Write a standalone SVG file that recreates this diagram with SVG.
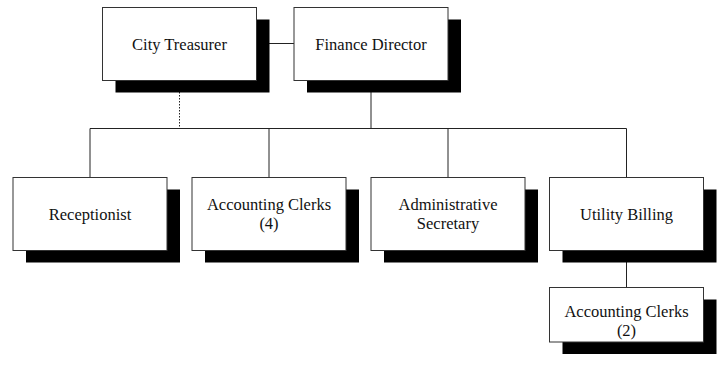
<svg xmlns="http://www.w3.org/2000/svg" width="717" height="370" viewBox="0 0 717 370">
<style>
.sh{fill:#000}
.bx{fill:#fff;stroke:#333;stroke-width:1}
.ln{stroke:#222;stroke-width:1;fill:none}
.dt{stroke:#222;stroke-width:1;fill:none;stroke-dasharray:1.5,1.5}
.t{font-family:'Liberation Serif','Times New Roman',serif;font-size:16.5px;fill:#111;text-anchor:middle}
</style>
<rect width="717" height="370" fill="#fff"/>
<g id="connectors">
<line class="ln" x1="256.5" y1="43.5" x2="294" y2="43.5"/>
<line class="dt" x1="179.5" y1="80" x2="179.5" y2="128.5"/>
<line class="ln" x1="371" y1="80" x2="371" y2="128.5"/>
<line class="ln" x1="90" y1="128.5" x2="626.5" y2="128.5"/>
<line class="ln" x1="90" y1="128.5" x2="90" y2="177.5"/>
<line class="ln" x1="269" y1="128.5" x2="269" y2="177.5"/>
<line class="ln" x1="448" y1="128.5" x2="448" y2="177.5"/>
<line class="ln" x1="626.5" y1="128.5" x2="626.5" y2="177.5"/>
<line class="ln" x1="626.5" y1="250" x2="626.5" y2="287.5"/>
</g>
<g id="city-treasurer">
<rect class="sh" x="115.5" y="19.5" width="154" height="73"/>
<rect class="bx" x="102.5" y="7.5" width="154" height="73"/>
<text class="t" font-family="Liberation Serif, serif" x="179.5" y="49.5">City Treasurer</text>
</g>
<g id="finance-director">
<rect class="sh" x="307" y="19.5" width="154" height="73"/>
<rect class="bx" x="294" y="7.5" width="154" height="73"/>
<text class="t" font-family="Liberation Serif, serif" x="371" y="49.5">Finance Director</text>
</g>
<g id="receptionist">
<rect class="sh" x="26" y="189.5" width="154" height="73"/>
<rect class="bx" x="13" y="177.5" width="154" height="73"/>
<text class="t" font-family="Liberation Serif, serif" x="90" y="219.5">Receptionist</text>
</g>
<g id="accounting-clerks-4">
<rect class="sh" x="205" y="189.5" width="154" height="73"/>
<rect class="bx" x="192" y="177.5" width="154" height="73"/>
<text class="t" font-family="Liberation Serif, serif" x="269" y="209.5">Accounting Clerks</text>
<text class="t" font-family="Liberation Serif, serif" x="269" y="228.5">(4)</text>
</g>
<g id="administrative-secretary">
<rect class="sh" x="384" y="189.5" width="154" height="73"/>
<rect class="bx" x="371" y="177.5" width="154" height="73"/>
<text class="t" font-family="Liberation Serif, serif" x="448" y="209.5">Administrative</text>
<text class="t" font-family="Liberation Serif, serif" x="448" y="228.5">Secretary</text>
</g>
<g id="utility-billing">
<rect class="sh" x="562.5" y="189.5" width="154" height="73"/>
<rect class="bx" x="549.5" y="177.5" width="154" height="73"/>
<text class="t" font-family="Liberation Serif, serif" x="626.5" y="219.5">Utility Billing</text>
</g>
<g id="accounting-clerks-2">
<rect class="sh" x="562.5" y="299.5" width="154" height="54.5"/>
<rect class="bx" x="549.5" y="287.5" width="154" height="54.5"/>
<text class="t" font-family="Liberation Serif, serif" x="626.5" y="317">Accounting Clerks</text>
<text class="t" font-family="Liberation Serif, serif" x="626.5" y="336">(2)</text>
</g>
</svg>
